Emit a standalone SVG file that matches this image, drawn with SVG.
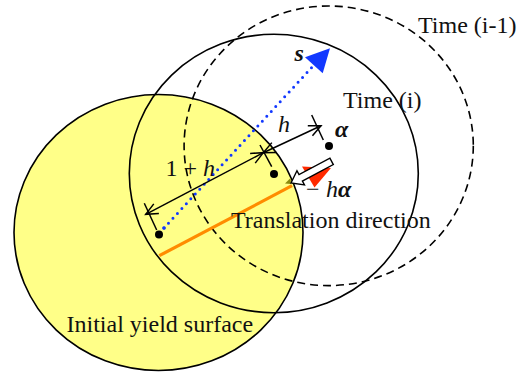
<svg xmlns="http://www.w3.org/2000/svg" width="522" height="372" viewBox="0 0 522 372">
<style>
.ring{fill:none;stroke:#000;stroke-width:1.6}
.dash{stroke-dasharray:8 5}
.t{font-family:"Liberation Serif","Times New Roman",serif;font-size:24px;fill:#111}
.it{font-style:italic}
.bi{font-style:italic;font-weight:bold}
.dim{fill:none;stroke:#000;stroke-width:1.5}
.dot{fill:#000}
</style>
<defs>
<marker id="open" viewBox="-13 -7 15 14" refX="0" refY="0" markerWidth="15" markerHeight="14" markerUnits="userSpaceOnUse" orient="auto-start-reverse">
<path d="M-12,-5.5 L0,0 L-12,5.5" fill="none" stroke="#000" stroke-width="1.5"/>
</marker>
</defs>
<rect width="522" height="372" fill="#fff"/>
<g id="initial-yield-surface">
<ellipse cx="158.5" cy="232.5" rx="144.5" ry="138" fill="#ffff88" stroke="#000" stroke-width="1.6"/>
</g>
<g id="time-i-1">
<ellipse class="ring dash" cx="328.7" cy="145.8" rx="144.6" ry="139.8"/>
</g>
<g id="time-i">
<ellipse class="ring" cx="273.8" cy="173.5" rx="144.5" ry="139.2"/>
</g>
<g id="connectors">
<line x1="159.3" y1="255.7" x2="292" y2="185.7" stroke="#ff8c00" stroke-width="3.2"/>
<polygon points="285,183.5 290.5,178 291,184" fill="#8a8a10"/>
<line x1="164" y1="228" x2="314" y2="65" stroke="#1238ff" stroke-width="3" stroke-linecap="round" stroke-dasharray="0 6.6"/>
<polygon points="330,48.3 305,57.3 322.7,73.3" fill="#1238ff"/>
<line class="dim" x1="144.3" y1="203.3" x2="156.7" y2="230"/>
<line class="dim" x1="260" y1="145" x2="271.7" y2="166.7"/>
<line class="dim" x1="311.7" y1="115" x2="323.3" y2="140"/>
<line class="dim" x1="145.7" y1="214.3" x2="263.3" y2="152.7" marker-start="url(#open)" marker-end="url(#open)"/>
<line class="dim" x1="263.3" y1="152.7" x2="321" y2="125.7" marker-start="url(#open)" marker-end="url(#open)"/>
<polygon points="302,166.5 331,168 314.5,187.5" fill="#ff2a00"/>
<polygon points="0,0 11,-8 11,-3.6 46,-3.6 46,3.6 11,3.6 11,8" transform="translate(291,183) rotate(-28)" fill="#fff" stroke="#000" stroke-width="1.4" stroke-linejoin="miter"/>
</g>
<g id="centers">
<circle class="dot" cx="159" cy="234.5" r="4"/>
<circle cx="164" cy="228" r="1.8" fill="#1238ff"/>
<circle class="dot" cx="274" cy="174" r="4"/>
<circle class="dot" cx="329" cy="146" r="4"/>
</g>
<g id="labels">
<text class="t" x="418" y="33">Time (i-1)</text>
<text class="t" x="343" y="108">Time (i)</text>
<text class="t" x="231" y="227.5">Translation direction</text>
<text class="t" x="66.5" y="331.5">Initial yield surface</text>
<text class="t" x="165.5" y="175.5">1 + <tspan class="it">h</tspan></text>
<text class="t it" x="278" y="131.5">h</text>
<text class="t bi" x="335" y="137">α</text>
<text class="t bi" x="294.5" y="61">s</text>
<text class="t" x="306" y="197">−<tspan class="it" x="326">h</tspan><tspan class="bi">α</tspan></text>
</g>
</svg>
